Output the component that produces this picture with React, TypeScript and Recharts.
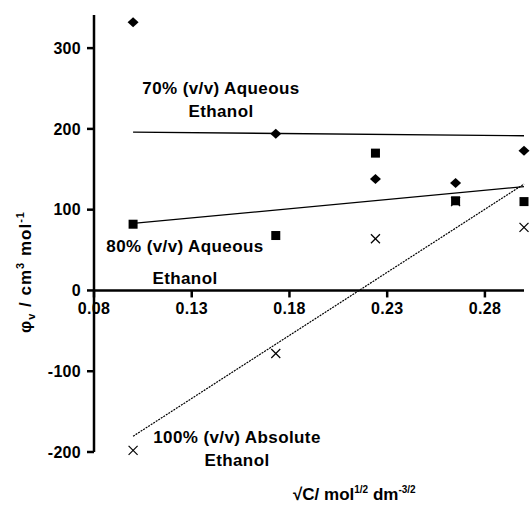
import React from 'react';
import { ScatterChart, Scatter, XAxis, YAxis, ReferenceLine } from 'recharts';

// ---- data ----
const xValues = [0.1, 0.173, 0.224, 0.265, 0.3];
const aqueous70 = [332, 194, 138, 133, 173];
const aqueous80 = [82, 68, 170, 111, 110];
const absolute100 = [-198, -78, 64, 110, 78];

const fitX = [0.1, 0.3];
const fit70 = [196, 191.5];
const fit80 = [83, 128.5];
const fit100 = [-180.5, 131.7];

const xTicks = [0.08, 0.13, 0.18, 0.23, 0.28];
const yTicks = [-200, -100, 0, 100, 200, 300];

// ---- layout ----
const W = 531;
const H = 505;
const M_TOP = 15;
const M_RIGHT = 7;
const M_BOTTOM = 23;
const Y_AXIS_W = 94;
const X_AXIS_H = 30;
const X_DOMAIN: [number, number] = [0.08, 0.3];
const Y_DOMAIN: [number, number] = [-200, 341];
const PLOT_H = H - M_TOP - M_BOTTOM - X_AXIS_H;
const ZERO_Y = M_TOP + (PLOT_H * (Y_DOMAIN[1] - 0)) / (Y_DOMAIN[1] - Y_DOMAIN[0]);

const FONT = '"Liberation Sans", Arial, Helvetica, sans-serif';

const toPts = (xs: number[], ys: number[]) => xs.map((x, i) => ({ x, y: ys[i] }));

const d70 = toPts(xValues, aqueous70);
const d80 = toPts(xValues, aqueous80);
const d100 = toPts(xValues, absolute100);
const l70 = toPts(fitX, fit70);
const l80 = toPts(fitX, fit80);
const l100 = toPts(fitX, fit100);

const Diamond = (p: any) => {
  const { cx, cy } = p;
  if (cx == null || cy == null) return <g />;
  return (
    <path
      d={`M${cx},${cy - 5} L${cx + 5.5},${cy} L${cx},${cy + 5} L${cx - 5.5},${cy} Z`}
      fill="#000"
    />
  );
};

const Square = (p: any) => {
  const { cx, cy } = p;
  if (cx == null || cy == null) return <g />;
  return <rect x={cx - 4.5} y={cy - 4.5} width={9} height={9} fill="#000" />;
};

const Cross = (p: any) => {
  const { cx, cy } = p;
  if (cx == null || cy == null) return <g />;
  const s = 4.5;
  return (
    <g stroke="#000" strokeWidth={1.2}>
      <line x1={cx - s} y1={cy - s} x2={cx + s} y2={cy + s} />
      <line x1={cx - s} y1={cy + s} x2={cx + s} y2={cy - s} />
    </g>
  );
};

const Empty = () => <g />;

const XTick = (p: any) => {
  const { x, payload } = p;
  return (
    <g>
      <line x1={x} x2={x} y1={ZERO_Y} y2={ZERO_Y + 7} stroke="#000" strokeWidth={2.5} />
      <text
        x={x}
        y={ZERO_Y + 24}
        textAnchor="middle"
        fill="#000"
        fontSize={16}
        fontWeight="bold"
        fontFamily={FONT}
        letterSpacing={0.3}
      >
        {Number(payload.value).toFixed(2)}
      </text>
    </g>
  );
};

const annStyle: React.CSSProperties = {
  fontFamily: FONT,
  fontWeight: 'bold',
  fontSize: 17,
  letterSpacing: 0.4,
};

export default function App() {
  return (
    <div style={{ position: 'absolute', left: 0, top: 0, width: W, height: H, background: '#fff' }}>
      <ScatterChart
        width={W}
        height={H}
        margin={{ top: M_TOP, right: M_RIGHT, bottom: M_BOTTOM, left: 0 }}
      >
        <XAxis
          type="number"
          dataKey="x"
          domain={X_DOMAIN}
          ticks={xTicks}
          axisLine={false}
          tickLine={false}
          height={X_AXIS_H}
          tick={XTick}
          interval={0}
        />
        <YAxis
          type="number"
          dataKey="y"
          domain={Y_DOMAIN}
          ticks={yTicks}
          width={Y_AXIS_W}
          axisLine={{ stroke: '#000', strokeWidth: 2.5 }}
          tickLine={{ stroke: '#000', strokeWidth: 2.5 }}
          tickSize={7}
          tickMargin={6}
          interval={0}
          tick={{
            fill: '#000',
            fontSize: 16,
            fontWeight: 'bold',
            fontFamily: FONT,
            letterSpacing: 0.3,
          }}
        />
        <ReferenceLine y={0} stroke="#000" strokeWidth={2.5} />
        <Scatter
          data={l70}
          line={{ stroke: '#000', strokeWidth: 1.3 }}
          shape={Empty}
          isAnimationActive={false}
        />
        <Scatter
          data={l80}
          line={{ stroke: '#000', strokeWidth: 1.3 }}
          shape={Empty}
          isAnimationActive={false}
        />
        <Scatter
          data={l100}
          line={{ stroke: '#000', strokeWidth: 1.2, strokeDasharray: '2 1' }}
          shape={Empty}
          isAnimationActive={false}
        />
        <Scatter data={d100} shape={Cross} isAnimationActive={false} />
        <Scatter data={d80} shape={Square} isAnimationActive={false} />
        <Scatter data={d70} shape={Diamond} isAnimationActive={false} />
      </ScatterChart>
      <svg
        width={W}
        height={H}
        style={{ position: 'absolute', left: 0, top: 0, pointerEvents: 'none' }}
      >
        <g fill="#000" style={annStyle}>
          <text x={221} y={94} textAnchor="middle">70% (v/v) Aqueous</text>
          <text x={221} y={117} textAnchor="middle">Ethanol</text>
          <text x={185} y={252} textAnchor="middle">80% (v/v) Aqueous</text>
          <text x={185} y={284} textAnchor="middle">Ethanol</text>
          <text x={237} y={443} textAnchor="middle">100% (v/v) Absolute</text>
          <text x={237} y={466} textAnchor="middle">Ethanol</text>
        </g>
        <text
          transform="translate(31,272) rotate(-90)"
          textAnchor="middle"
          fill="#000"
          fontFamily={FONT}
          fontWeight="bold"
          fontSize={17}
          letterSpacing={1}
        >
          φ
          <tspan fontSize={11} dy={4}>v</tspan>
          <tspan dy={-4}> / cm</tspan>
          <tspan fontSize={11} dy={-7}>3</tspan>
          <tspan dy={7}> mol</tspan>
          <tspan fontSize={11} dy={-7}>-1</tspan>
        </text>
        <text
          x={293}
          y={500}
          fill="#000"
          fontFamily={FONT}
          fontWeight="bold"
          fontSize={17}
        >
          √C/ mol
          <tspan fontSize={10} dy={-7}>1/2</tspan>
          <tspan dy={7}> dm</tspan>
          <tspan fontSize={10} dy={-7}>-3/2</tspan>
        </text>
      </svg>
    </div>
  );
}
